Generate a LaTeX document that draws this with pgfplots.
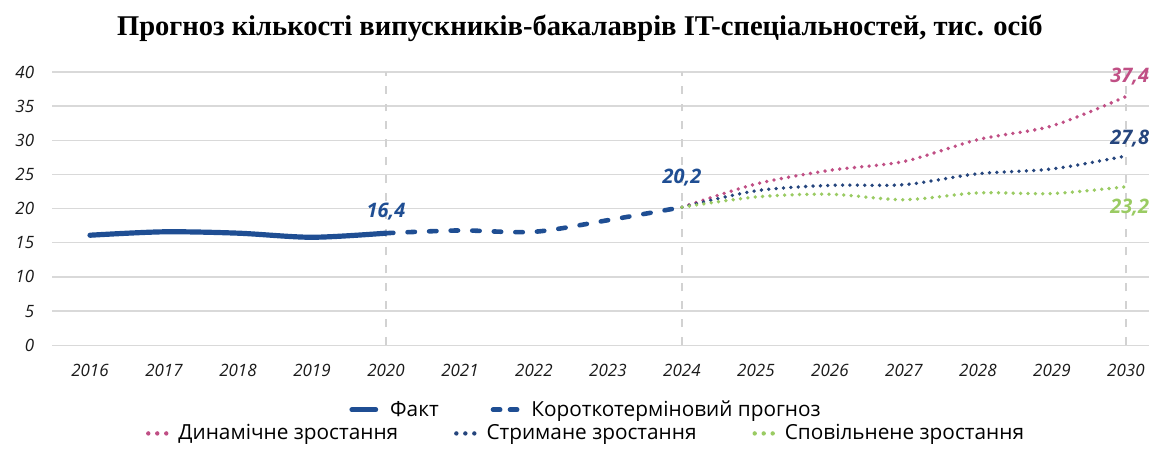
\documentclass[border=0pt]{standalone}
\usepackage{fontspec}
\setmainfont{Open Sans}
\newfontfamily\titlefont{Liberation Serif}
\usepackage{pgfplots}
\usepackage{pgfplotstable}
\pgfplotsset{compat=1.18}

\definecolor{factblue}{HTML}{1F4E93}
\definecolor{dynpink}{HTML}{C04F85}
\definecolor{restblue}{HTML}{25457D}
\definecolor{slowgreen}{HTML}{9ACB63}
\definecolor{gridgray}{HTML}{D9D9D9}
\definecolor{tickgray}{HTML}{1A1A1A}

\pgfplotstableread{
year val
2016 16.1
2017 16.6
2018 16.4
2019 15.8
2020 16.4
}\fact
\pgfplotstableread{
year val
2020 16.4
2021 16.8
2022 16.6
2023 18.3
2024 20.2
}\short
\pgfplotstableread{
year val
2024 20.2
2025 23.6
2026 25.6
2027 26.9
2028 30.1
2029 32.1
2030 36.4
}\dyn
\pgfplotstableread{
year val
2024 20.2
2025 22.6
2026 23.4
2027 23.5
2028 25.1
2029 25.8
2030 27.7
}\rest
\pgfplotstableread{
year val
2024 20.2
2025 21.7
2026 22.1
2027 21.3
2028 22.3
2029 22.2
2030 23.2
}\slow

\newsavebox\legsolid
\newsavebox\legdash
\newsavebox\legpink
\newsavebox\legblue
\newsavebox\leggreen

\begin{document}%
\sbox\legsolid{\tikz[baseline=-0.6ex]\draw[factblue,line width=2.4pt,line cap=round](0,0)--(12pt,0);}%
\sbox\legdash{\tikz[baseline=-0.6ex]\draw[factblue,line width=2.4pt,line cap=round](0,0)--(3.5pt,0) (8.5pt,0)--(12pt,0);}%
\sbox\legpink{\tikz[baseline=-0.6ex]\foreach \i in {0,4.5,9}\fill[dynpink](\i pt,0) circle (1.1pt);}%
\sbox\legblue{\tikz[baseline=-0.6ex]\foreach \i in {0,4.5,9}\fill[restblue](\i pt,0) circle (1.1pt);}%
\sbox\leggreen{\tikz[baseline=-0.6ex]\foreach \i in {0,4.5,9}\fill[slowgreen](\i pt,0) circle (1.1pt);}%
\begin{tikzpicture}
\begin{axis}[
    width=549pt, height=136.8pt,
    scale only axis,
    clip=false,
    xmin=2015.49, xmax=2030.31,
    ymin=0, ymax=40,
    xtick={2016,2017,...,2030},
    ytick={0,5,...,40},
    axis line style={draw=none},
    tick style={draw=none},
    ymajorgrids=true,
    major grid style={gridgray, line width=0.7pt},
    extra x ticks={2020,2024,2030},
    extra x tick labels={},
    extra x tick style={grid=major, major grid style={gray!35, line width=0.6pt, dash pattern=on 4pt off 5pt}},
    /pgf/number format/assume math mode=true,
    /pgf/number format/1000 sep={},
    ticklabel style={font=\itshape\fontsize{8.5}{10}\selectfont, text=tickgray},
    xticklabel style={yshift=-6pt},
    yticklabel style={xshift=-5.5pt},
]
\addplot[factblue, line width=2.6pt, smooth, tension=0.5, line cap=round] table[x=year, y=val] {\fact};
\addplot[factblue, line width=2.3pt, smooth, tension=0.5, line cap=round, dash pattern=on 3.7pt off 7.1pt] table[x=year, y=val] {\short};
\addplot[dynpink, line width=1.9pt, smooth, tension=0.5, line cap=round, dash pattern=on 0pt off 3.7pt] table[x=year, y=val] {\dyn};
\addplot[restblue, line width=1.9pt, smooth, tension=0.5, line cap=round, dash pattern=on 0pt off 3.7pt] table[x=year, y=val] {\rest};
\addplot[slowgreen, line width=1.9pt, smooth, tension=0.5, line cap=round, dash pattern=on 0pt off 3.7pt] table[x=year, y=val] {\slow};

\coordinate (bbll) at (axis cs:2014.784,-15.26);
\coordinate (bbur) at (axis cs:2030.473,50.53);

\node[font=\titlefont\bfseries\fontsize{14.3}{16}\selectfont] at (axis cs:2022.62,46.45)
  {Прогноз кількості випускників-бакалаврів IT-спеціальностей, тис. осіб};

\begin{scope}[every node/.style={font=\bfseries\itshape\fontsize{10}{12}\selectfont}]
\node[text=factblue] at (axis cs:2020.0,19.5) {16,4};
\node[text=factblue] at (axis cs:2024.0,24.5) {20,2};
\node[text=dynpink] at (axis cs:2030.05,39.3) {37,4};
\node[text=restblue] at (axis cs:2030.05,30.2) {27,8};
\node[text=slowgreen] at (axis cs:2030.05,20.1) {23,2};
\end{scope}

\node[font=\fontsize{10.4}{12}\selectfont] at (axis cs:2022.69,-9.6)
  {\usebox\legsolid\hspace{6pt}Факт\hspace{26pt}\usebox\legdash\hspace{6pt}Короткотерміновий прогноз};
\node[font=\fontsize{10.4}{12}\selectfont] at (axis cs:2022.69,-13.1)
  {\usebox\legpink\hspace{5pt}Динамічне зростання\hspace{28pt}\usebox\legblue\hspace{5pt}Стримане зростання\hspace{28pt}\usebox\leggreen\hspace{5pt}Сповільнене зростання};
\end{axis}
\pgfresetboundingbox
\path (bbll) rectangle (bbur);
\end{tikzpicture}%
\end{document}
